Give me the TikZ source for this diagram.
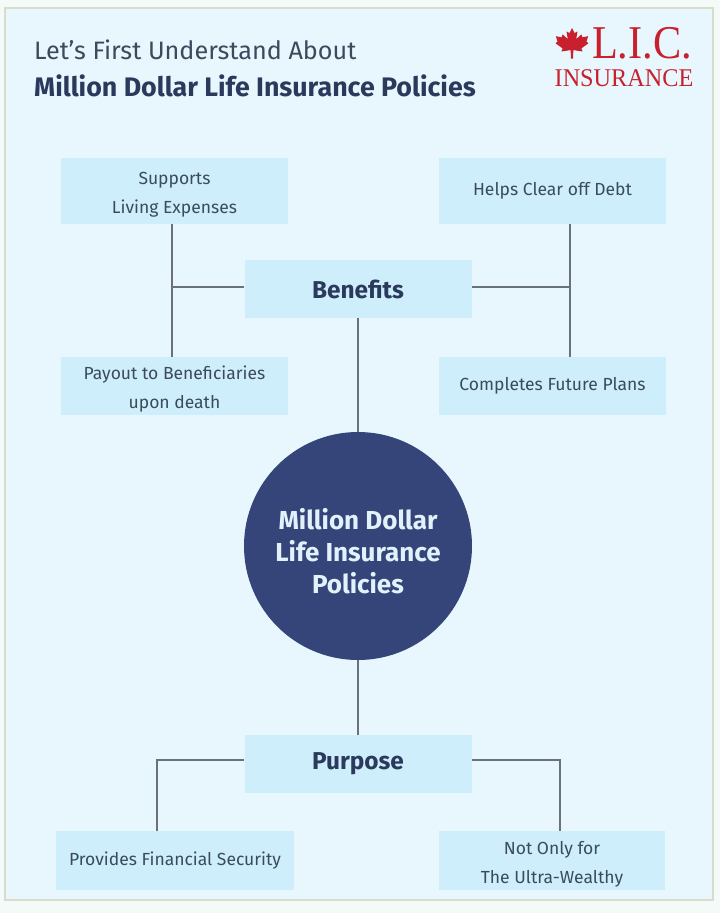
\documentclass[tikz,border=0pt]{standalone}
\usepackage{fontspec}
\setmainfont{Fira Sans}
\newfontfamily\logofont{Liberation Serif}
\newcommand\topstrut{\rule{0pt}{20.5pt}}
\definecolor{pagebg}{HTML}{F4FAF8}
\definecolor{panelbg}{HTML}{E7F7FD}
\definecolor{panelframe}{HTML}{DADCCB}
\definecolor{boxfill}{HTML}{CDEEFA}
\definecolor{boxtext}{HTML}{3B4A5C}
\definecolor{headtext}{HTML}{2B3A5C}
\definecolor{circfill}{HTML}{35457A}
\definecolor{circtext}{HTML}{E2F2FB}
\definecolor{linecol}{HTML}{6B7179}
\definecolor{logored}{HTML}{C8202C}
\tikzset{
  leafbox/.style={fill=boxfill, draw=none, minimum width=227pt, minimum height=66pt, align=center, text=boxtext, font=\fontsize{17.5}{29}\selectfont, inner sep=0pt},
  hubbox/.style={fill=boxfill, draw=none, minimum width=227pt, minimum height=58pt, align=center, text=headtext, font=\fontsize{24.4}{28}\selectfont\bfseries, inner sep=0pt},
  conn/.style={draw=linecol, line width=1.3pt},
}
\begin{document}
\begin{tikzpicture}[x=1pt,y=-1pt]
\useasboundingbox (0,0) rectangle (720,913);
\fill[pagebg] (0,0) rectangle (720,913);
\draw[panelframe, fill=panelbg, line width=1.5pt] (5,8) rectangle (713,900);

% header
\node[anchor=west, text=boxtext, font=\fontsize{25.2}{28}\selectfont, inner sep=0pt] (t1) at (34,50) {Let’s First Understand About};
\node[anchor=west, text=headtext, font=\fontsize{26.8}{30}\selectfont\bfseries, inner sep=0pt] (t2) at (34,86) {Million Dollar Life Insurance Policies};

% logo
\begin{scope}[shift={(572,45)}, x=17pt, y=17pt]
\fill[logored] (0,1) -- (0.15,0.7) -- (0.32,0.8) -- (0.25,0.35) -- (0.55,0.62) -- (0.62,0.45) -- (0.95,0.52) -- (0.85,0.2) -- (0.97,0.1) -- (0.55,-0.2) -- (0.62,-0.38) -- (0.08,-0.3) -- (0.06,-0.8) -- (-0.06,-0.8) -- (-0.08,-0.3) -- (-0.62,-0.38) -- (-0.55,-0.2) -- (-0.97,0.1) -- (-0.85,0.2) -- (-0.95,0.52) -- (-0.62,0.45) -- (-0.55,0.62) -- (-0.25,0.35) -- (-0.32,0.8) -- (-0.15,0.7) -- cycle;
\end{scope}
\node[anchor=base, text=logored, font=\logofont\fontsize{47}{47}\selectfont, inner sep=0pt, xscale=0.9] (lic) at (642,58.5) {L.I.C.};
\node[anchor=base, text=logored, font=\logofont\fontsize{25.5}{25.5}\selectfont, inner sep=0pt, xscale=0.95] (ins) at (624,86.5) {INSURANCE};

% nodes
\node[leafbox] (sup) at (174.5,191) {\topstrut Supports\\Living Expenses};
\node[leafbox] (debt) at (552.5,191) {Helps Clear off Debt};
\node[hubbox] (ben) at (358,289) {Benefits};
\node[leafbox, minimum height=58pt] (pay) at (174.5,386) {\topstrut Payout to Beneficiaries\\upon death};
\node[leafbox, minimum height=58pt] (fut) at (552.5,386) {Completes Future Plans};
\node[circle, fill=circfill, minimum size=228pt, inner sep=0pt] (circ) at (358,546) {};
\node[align=center, text=circtext, font=\fontsize{26}{32}\selectfont\bfseries, inner sep=0pt] (circtxt) at (358,551) {Million Dollar\\Life Insurance\\Policies};
\node[hubbox] (pur) at (358,764) {Purpose};
\node[leafbox, minimum width=238pt, minimum height=59pt] (fin) at (175,860.5) {Provides Financial Security};
\node[leafbox, minimum width=226pt, minimum height=59pt] (ult) at (552,860.5) {\topstrut Not Only for\\The Ultra-Wealthy};

% junction coordinates
\coordinate (lt) at ([xshift=-2.5pt]sup.south);
\coordinate (lb) at ([xshift=-2.5pt]pay.north);
\coordinate (rt) at ([xshift=17.5pt]debt.south);
\coordinate (rb) at ([xshift=17.5pt]fut.north);
\coordinate (bw) at ([yshift=2pt]ben.west);
\coordinate (be) at ([yshift=2pt]ben.east);
\coordinate (pw) at ([yshift=4pt]pur.west);
\coordinate (pe) at ([yshift=4pt]pur.east);
\coordinate (fn) at ([xshift=-18pt]fin.north);
\coordinate (un) at ([xshift=8pt]ult.north);

% connectors
\draw[conn] (lt) -- (lb);
\draw[conn] (bw) -- (bw -| lt);
\draw[conn] (rt) -- (rb);
\draw[conn] (be) -- (be -| rt);
\draw[conn] (ben.south) -- (circ.north);
\draw[conn] (circ.south) -- (pur.north);
\draw[conn] (pw) -| (fn);
\draw[conn] (pe) -| (un);
\end{tikzpicture}
\end{document}
